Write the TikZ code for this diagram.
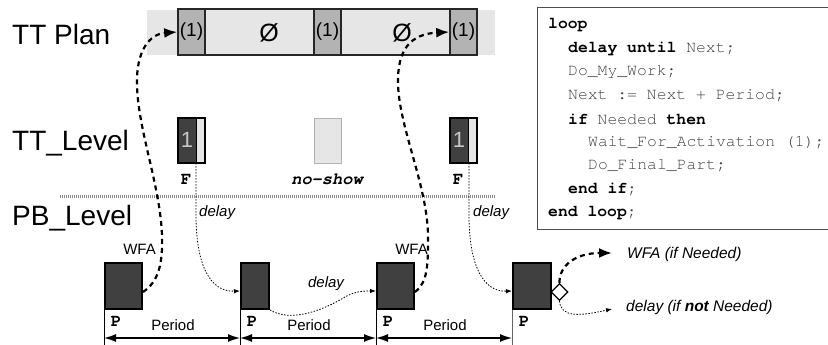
\documentclass[tikz,border=0pt]{standalone}
\usepackage{fontspec}
\setmainfont{Liberation Sans}
\newfontfamily\codefont{TeX Gyre Cursor}
\usetikzlibrary{arrows.meta,shapes.geometric}
\definecolor{planlight}{HTML}{E6E6E6}
\definecolor{plandark}{HTML}{B3B3B3}
\definecolor{taskdark}{HTML}{404040}
\definecolor{codegray}{HTML}{444444}
\newcommand{\kw}[1]{\textcolor{black}{\bfseries #1}}

\begin{document}
\begin{tikzpicture}[x=1pt,y=-1pt,
  levellabel/.style={anchor=west, inner sep=0pt, font=\fontsize{28}{32}\selectfont},
  planslot/.style={draw=black!85, line width=1.6pt, minimum height=46pt, inner sep=0pt,
    font=\fontsize{19}{22}\selectfont},
  planfull/.style={planslot, fill=plandark, minimum width=27pt},
  planempty/.style={planslot, fill=planlight, minimum width=109pt},
  finalbox/.style={draw=black, line width=1.6pt, fill=planlight, minimum width=27pt,
    minimum height=45pt, inner sep=0pt,
    path picture={\fill[taskdark] (path picture bounding box.north west) rectangle
      ([xshift=-8.5pt]path picture bounding box.south east);
      \draw[line width=1.6pt] ([xshift=-8.5pt]path picture bounding box.north east) --
      ([xshift=-8.5pt]path picture bounding box.south east);}},
  onetext/.style={text=black!22, font=\fontsize{22}{24}\selectfont, inner sep=0pt},
  pbbox/.style={draw=black, line width=2pt, fill=taskdark, minimum height=46pt, inner sep=0pt},
  monolabel/.style={font=\codefont\bfseries\fontsize{17.5}{19}\selectfont, inner sep=0pt},
  smalltext/.style={font=\fontsize{15}{18}\selectfont, inner sep=0pt},
  smallit/.style={font=\itshape\fontsize{15}{18}\selectfont, inner sep=0pt},
  notetext/.style={anchor=west, font=\itshape\fontsize{15.5}{18}\selectfont, inner sep=0pt},
  codeline/.style={anchor=west, inner sep=0pt, text=codegray,
    font=\codefont\fontsize{16.4}{19}\selectfont},
  wfa/.style={line width=2.2pt, dash pattern=on 5pt off 4pt,
    -{Latex[length=13pt,width=10pt]}},
  dly/.style={line width=0.8pt, dash pattern=on 1.5pt off 1.5pt,
    -{Latex[length=6pt,width=4.5pt]}},
  dim/.style={line width=1.3pt, {Latex[length=12pt,width=8pt]}-{Latex[length=12pt,width=8pt]}}
]
\useasboundingbox (0,0) rectangle (828,345);

% ---------- level names ----------
\node[levellabel] (ttplan)  at (12,34)  {TT Plan};
\node[levellabel] (ttlevel) at (12,143) {TT\_Level};
\node[levellabel] (pblevel) at (12,218) {PB\_Level};

% ---------- TT plan ----------
\fill[planlight] (147,10) rectangle (495,55);
\node[planfull]  (p1) at (191.5,32) {(1)};
\node[planempty] (e1) at (259.5,32) {};
\node[planfull]  (p2) at (327.5,32) {(1)};
\node[planempty] (e2) at (395.5,32) {};
\node[planfull]  (p3) at (463.5,32) {(1)};
\node[font=\fontsize{25}{28}\selectfont, inner sep=0pt] (n1) at (269,33) {Ø};
\node[font=\fontsize{25}{28}\selectfont, inner sep=0pt] (n2) at (402,33) {Ø};

% ---------- TT level ----------
\node[finalbox] (f1) at (191.5,140.5) {};
\node[onetext] (f1n) at (187,140) {1};
\node[draw=black!30, line width=1pt, fill=planlight, minimum width=27pt,
  minimum height=45pt, inner sep=0pt] (ns) at (327.5,140.5) {};
\node[finalbox] (f3) at (463.5,140.5) {};
\node[onetext] (f3n) at (459,140) {1};
\node[monolabel] (f1l) at (186,179) {F};
\node[monolabel, font=\codefont\bfseries\itshape\fontsize{17}{19}\selectfont] (nsl) at (327,179) {no-show};
\node[monolabel] (f3l) at (458,179) {F};

% separation between the two levels
\coordinate (sepl) at (60,196);
\coordinate (sepr) at (495,196);
\draw[black!45, line width=3pt, dash pattern=on 1pt off 1pt] (sepl) -- (sepr);

% ---------- PB level jobs ----------
\node[pbbox, minimum width=37pt] (b1) at (123.5,286) {};
\node[pbbox, minimum width=28pt] (b2) at (255,286) {};
\node[pbbox, minimum width=37pt] (b3) at (395.5,286) {};
\node[pbbox, minimum width=38pt] (b4) at (532,286) {};
\node[monolabel] (b1l) at (116,321) {P};
\node[monolabel] (b2l) at (252,321) {P};
\node[monolabel] (b3l) at (388,321) {P};
\node[monolabel] (b4l) at (524,321) {P};

% period ticks and dimension arrows
\foreach \b in {b1,b2,b3} \draw[line width=1pt] (\b.south west) -- ++(0,37);
\draw[line width=1pt, black!60] (b4.south west) -- ++(0,37);
\draw[dim] ([yshift=-28pt]b1.south west) -- ([yshift=-28pt]b2.south west);
\draw[dim] ([yshift=-28pt]b2.south west) -- ([yshift=-28pt]b3.south west);
\draw[dim] ([yshift=-28pt]b3.south west) -- ([yshift=-28pt]b4.south west);
\node[smalltext] (per1) at (173,325) {Period};
\node[smalltext] (per2) at (309,325) {Period};
\node[smalltext] (per3) at (445,325) {Period};

% ---------- activations ----------
\draw[wfa] ([yshift=-6pt]b1.east) .. controls (158,282) and (163,265) .. (162,235)
  .. controls (160,185) and (138,130) .. (137,85)
  .. controls (136,50) and (150,34) .. (p1.west);
\node[smalltext, anchor=east] (w1) at (156,249) {WFA};

\draw[wfa] ([yshift=-6pt]b3.east) .. controls (428,282) and (428,265) .. (428,235)
  .. controls (427,185) and (400,130) .. (398,85)
  .. controls (397,50) and (410,34) .. (p3.west);
\node[smalltext, anchor=east] (w3) at (428,249) {WFA};

\coordinate (d1) at (196,163);
\draw[dly] (d1) -- (196,215) .. controls (196,265) and (210,292) .. ([yshift=-5pt]b2.west);
\node[smallit, anchor=west] (dl1) at (199,213) {delay};

\draw[dly] (b2.south east) .. controls (290,322) and (320,312) .. (345,297)
  .. controls (355,291) and (365,291) .. ([yshift=-5pt]b3.west);
\node[smallit] (dl2) at (326,284) {delay};

\coordinate (d3) at (469,163);
\draw[dly] (d3) -- (469,215) .. controls (469,265) and (483,292) .. ([yshift=-5pt]b4.west);
\node[smallit, anchor=west] (dl3) at (473,213) {delay};

% choice after the last job
\node[diamond, draw=black, line width=1.2pt, fill=white, minimum size=17pt, inner sep=0pt]
  (dm) at (559.5,292) {};
\draw[wfa] (dm.north) .. controls (559,266) and (575,253) .. (612,253);
\node[notetext] (wn) at (627,254) {WFA (if Needed)};
\draw[dly] (dm.south) .. controls (561,318) and (580,316) .. (612,309);
\node[notetext] (dn) at (626,307) {delay (if \textbf{not} Needed)};

% ---------- task code ----------
\node[draw=black!70, line width=1.2pt, minimum width=296pt, minimum height=222pt,
  inner sep=0pt, anchor=north west] (code) at (537,7) {};
\node[codeline] (c1) at (548,25)   {\kw{loop}};
\node[codeline] (c2) at (568,48.5) {\kw{delay until} Next;};
\node[codeline] (c3) at (568,72)   {Do\_My\_Work;};
\node[codeline] (c4) at (568,95.5) {Next := Next + Period;};
\node[codeline] (c5) at (568,119)  {\kw{if} Needed \kw{then}};
\node[codeline] (c6) at (588,142.5){Wait\_For\_Activation (1);};
\node[codeline] (c7) at (588,166)  {Do\_Final\_Part;};
\node[codeline] (c8) at (568,189.5){\kw{end if};};
\node[codeline] (c9) at (548,213)  {\kw{end loop};};
\end{tikzpicture}
\end{document}
